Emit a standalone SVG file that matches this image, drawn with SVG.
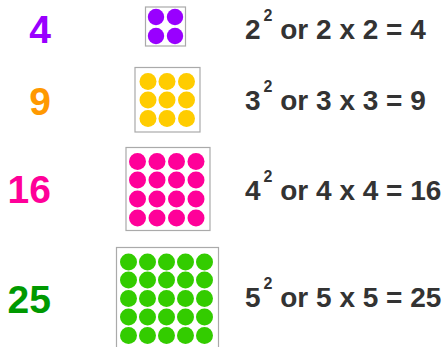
<svg xmlns="http://www.w3.org/2000/svg" width="446" height="347" viewBox="0 0 446 347">
<style>
.num{font-family:"Liberation Sans",Arial,sans-serif;font-weight:bold;font-size:39px;text-anchor:end}
.eq{font-family:"Liberation Sans",Arial,sans-serif;font-weight:bold;font-size:28px;fill:#333333}
.sup{font-size:16px}
.box{fill:#ffffff;stroke:#aaaaaa;stroke-width:1.2}
.c1{fill:#9900ff}.c2{fill:#ffcc00}.c3{fill:#ff0099}.c4{fill:#33cc00}
</style>
<rect width="446" height="347" fill="#ffffff"/>
<g id="row4">
<text class="num" x="51" y="43" fill="#9900ff">4</text>
<rect class="box" x="145.5" y="7" width="40" height="39"/>
<g class="c1"><circle cx="156" cy="17" r="8.2"/><circle cx="175" cy="17" r="8.2"/><circle cx="156" cy="36" r="8.2"/><circle cx="175" cy="36" r="8.2"/></g>
<text class="eq" x="245" y="39">2<tspan class="sup" dx="3" dy="-18.5">2</tspan><tspan dy="18.5"> or 2 x 2 = 4</tspan></text>
</g>
<g id="row9">
<text class="num" x="51" y="115" fill="#ff9900">9</text>
<rect class="box" x="135" y="67.5" width="65" height="64.5"/>
<g class="c2">
<circle cx="148" cy="81.5" r="8.5"/><circle cx="167" cy="81.5" r="8.5"/><circle cx="186.5" cy="81.5" r="8.5"/>
<circle cx="148" cy="100" r="8.5"/><circle cx="167" cy="100" r="8.5"/><circle cx="186.5" cy="100" r="8.5"/>
<circle cx="148" cy="118.5" r="8.5"/><circle cx="167" cy="118.5" r="8.5"/><circle cx="186.5" cy="118.5" r="8.5"/>
</g>
<text class="eq" x="245" y="110">3<tspan class="sup" dx="3" dy="-18.5">2</tspan><tspan dy="18.5"> or 3 x 3 = 9</tspan></text>
</g>
<g id="row16">
<text class="num" x="51" y="203" fill="#ff0099">16</text>
<rect class="box" x="126" y="147.5" width="84" height="83"/>
<g class="c3">
<circle cx="137.5" cy="161.5" r="8.5"/><circle cx="157" cy="161.5" r="8.5"/><circle cx="176.5" cy="161.5" r="8.5"/><circle cx="196" cy="161.5" r="8.5"/>
<circle cx="137.5" cy="180" r="8.5"/><circle cx="157" cy="180" r="8.5"/><circle cx="176.5" cy="180" r="8.5"/><circle cx="196" cy="180" r="8.5"/>
<circle cx="137.5" cy="199" r="8.5"/><circle cx="157" cy="199" r="8.5"/><circle cx="176.5" cy="199" r="8.5"/><circle cx="196" cy="199" r="8.5"/>
<circle cx="137.5" cy="218" r="8.5"/><circle cx="157" cy="218" r="8.5"/><circle cx="176.5" cy="218" r="8.5"/><circle cx="196" cy="218" r="8.5"/>
</g>
<text class="eq" x="245" y="200">4<tspan class="sup" dx="3" dy="-18.5">2</tspan><tspan dy="18.5"> or 4 x 4 = 16</tspan></text>
</g>
<g id="row25">
<text class="num" x="51" y="313" fill="#009900">25</text>
<rect class="box" x="116.5" y="247.5" width="102" height="103"/>
<g class="c4">
<circle cx="128.5" cy="262" r="8.5"/><circle cx="147.5" cy="262" r="8.5"/><circle cx="166.5" cy="262" r="8.5"/><circle cx="185.5" cy="262" r="8.5"/><circle cx="204.5" cy="262" r="8.5"/>
<circle cx="128.5" cy="280" r="8.5"/><circle cx="147.5" cy="280" r="8.5"/><circle cx="166.5" cy="280" r="8.5"/><circle cx="185.5" cy="280" r="8.5"/><circle cx="204.5" cy="280" r="8.5"/>
<circle cx="128.5" cy="298.5" r="8.5"/><circle cx="147.5" cy="298.5" r="8.5"/><circle cx="166.5" cy="298.5" r="8.5"/><circle cx="185.5" cy="298.5" r="8.5"/><circle cx="204.5" cy="298.5" r="8.5"/>
<circle cx="128.5" cy="317" r="8.5"/><circle cx="147.5" cy="317" r="8.5"/><circle cx="166.5" cy="317" r="8.5"/><circle cx="185.5" cy="317" r="8.5"/><circle cx="204.5" cy="317" r="8.5"/>
<circle cx="128.5" cy="335.5" r="8.5"/><circle cx="147.5" cy="335.5" r="8.5"/><circle cx="166.5" cy="335.5" r="8.5"/><circle cx="185.5" cy="335.5" r="8.5"/><circle cx="204.5" cy="335.5" r="8.5"/>
</g>
<text class="eq" x="245" y="307">5<tspan class="sup" dx="3" dy="-18.5">2</tspan><tspan dy="18.5"> or 5 x 5 = 25</tspan></text>
</g>
</svg>
